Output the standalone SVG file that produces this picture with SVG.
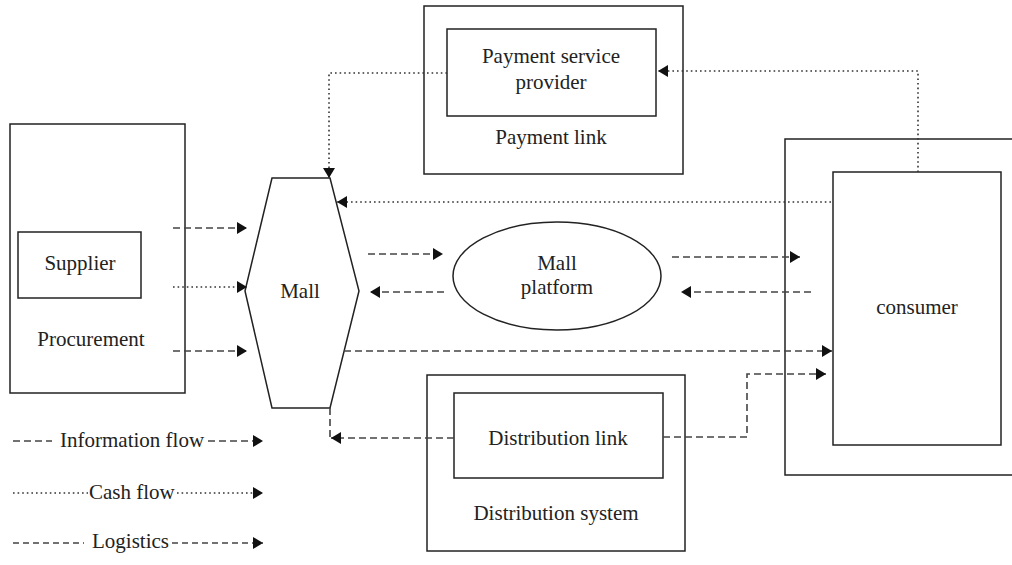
<svg xmlns="http://www.w3.org/2000/svg" width="1012" height="565" viewBox="0 0 1012 565">
  <style>
    .box { fill: none; stroke: #222; stroke-width: 1.5; }
    .lbl { font-family: "Liberation Serif", "Times New Roman", serif; font-size: 21px; fill: #222; text-anchor: middle; }
    .lbl-l { font-family: "Liberation Serif", "Times New Roman", serif; font-size: 21px; fill: #222; }
    .dash { fill: none; stroke: #444; stroke-width: 1.6; stroke-dasharray: 7 4; }
    .dash-s { fill: none; stroke: #444; stroke-width: 1.6; stroke-dasharray: 6 4; }
    .dot { fill: none; stroke: #333; stroke-width: 1.6; stroke-dasharray: 1.6 3; }
  </style>
  <defs>
    <marker id="arr" markerUnits="userSpaceOnUse" markerWidth="12" markerHeight="12" refX="10" refY="6" orient="auto">
      <path d="M0,0 L10,6 L0,12 Z" fill="#111"/>
    </marker>
  </defs>

  <!-- Procurement -->
  <g id="procurement">
    <rect class="box" x="10" y="124" width="175" height="269"/>
    <text class="lbl" x="91" y="346">Procurement</text>
  </g>
  <g id="supplier">
    <rect class="box" x="18" y="232" width="123" height="66"/>
    <text class="lbl" x="80" y="270">Supplier</text>
  </g>

  <!-- Mall -->
  <g id="mall">
    <polygon class="box" points="272,178 330,178 359,291 330,408 272,408 245,291"/>
    <text class="lbl" x="300" y="298">Mall</text>
  </g>

  <!-- Mall platform -->
  <g id="mall-platform">
    <ellipse class="box" cx="557" cy="276" rx="104" ry="54"/>
    <text class="lbl" x="557" y="270">Mall</text>
    <text class="lbl" x="557" y="294">platform</text>
  </g>

  <!-- Payment link -->
  <g id="payment-link">
    <rect class="box" x="424" y="6" width="259" height="168"/>
    <text class="lbl" x="551" y="144">Payment link</text>
  </g>
  <g id="payment-service-provider">
    <rect class="box" x="447" y="29" width="209" height="87"/>
    <text class="lbl" x="551" y="63">Payment service</text>
    <text class="lbl" x="551" y="89">provider</text>
  </g>

  <!-- Consumer -->
  <g id="consumer-outer">
    <path class="box" d="M1014,139 H785 V475 H1014"/>
  </g>
  <g id="consumer">
    <rect class="box" x="833" y="172" width="168" height="273"/>
    <text class="lbl" x="917" y="314">consumer</text>
  </g>

  <!-- Distribution -->
  <g id="distribution-system">
    <rect class="box" x="427" y="375" width="258" height="176"/>
    <text class="lbl" x="556" y="520">Distribution system</text>
  </g>
  <g id="distribution-link">
    <rect class="box" x="454" y="393" width="209" height="85"/>
    <text class="lbl" x="558" y="445">Distribution link</text>
  </g>

  <!-- Connectors -->
  <g id="connectors">
    <!-- procurement to mall -->
    <line class="dash" x1="173" y1="228" x2="247" y2="228" marker-end="url(#arr)"/>
    <line class="dot" x1="173" y1="287" x2="247" y2="287" marker-end="url(#arr)"/>
    <line class="dash" x1="173" y1="351" x2="247" y2="351" marker-end="url(#arr)"/>
    <!-- mall and platform -->
    <line class="dash" x1="368" y1="254" x2="443" y2="254" marker-end="url(#arr)"/>
    <line class="dash" x1="444" y1="292" x2="370" y2="292" marker-end="url(#arr)"/>
    <!-- platform and consumer -->
    <line class="dash" x1="672" y1="257" x2="800" y2="257" marker-end="url(#arr)"/>
    <line class="dash" x1="811" y1="292" x2="681" y2="292" marker-end="url(#arr)"/>
    <!-- mall to consumer -->
    <line class="dash" x1="344" y1="351" x2="832" y2="351" marker-end="url(#arr)"/>
    <!-- consumer to mall (cash) -->
    <line class="dot" x1="831" y1="202" x2="337" y2="202" marker-end="url(#arr)"/>
    <!-- consumer to payment provider (cash) -->
    <path class="dot" d="M918,172 V71 H658" marker-end="url(#arr)"/>
    <!-- payment provider to mall (cash) -->
    <path class="dot" d="M447,73 H329 V178" marker-end="url(#arr)"/>
    <!-- distribution link to mall -->
    <line class="dash" x1="330" y1="408" x2="330" y2="438"/>
    <line class="dash" x1="454" y1="438" x2="331" y2="438" marker-end="url(#arr)"/>
    <!-- distribution link to consumer -->
    <path class="dash" d="M663,437 H747 V374 H826" marker-end="url(#arr)"/>
  </g>

  <!-- Legend -->
  <g id="legend">
    <line class="dash" x1="13" y1="441" x2="52" y2="441"/>
    <text class="lbl-l" x="60" y="447">Information flow</text>
    <line class="dash" x1="208" y1="441" x2="263" y2="441" marker-end="url(#arr)"/>
    <line class="dot" x1="13" y1="493" x2="88" y2="493"/>
    <text class="lbl-l" x="89" y="499">Cash flow</text>
    <line class="dot" x1="177" y1="493" x2="263" y2="493" marker-end="url(#arr)"/>
    <line class="dash-s" x1="13" y1="543" x2="84" y2="543"/>
    <text class="lbl-l" x="92" y="548">Logistics</text>
    <line class="dash-s" x1="172" y1="543" x2="263" y2="543" marker-end="url(#arr)"/>
  </g>
</svg>
